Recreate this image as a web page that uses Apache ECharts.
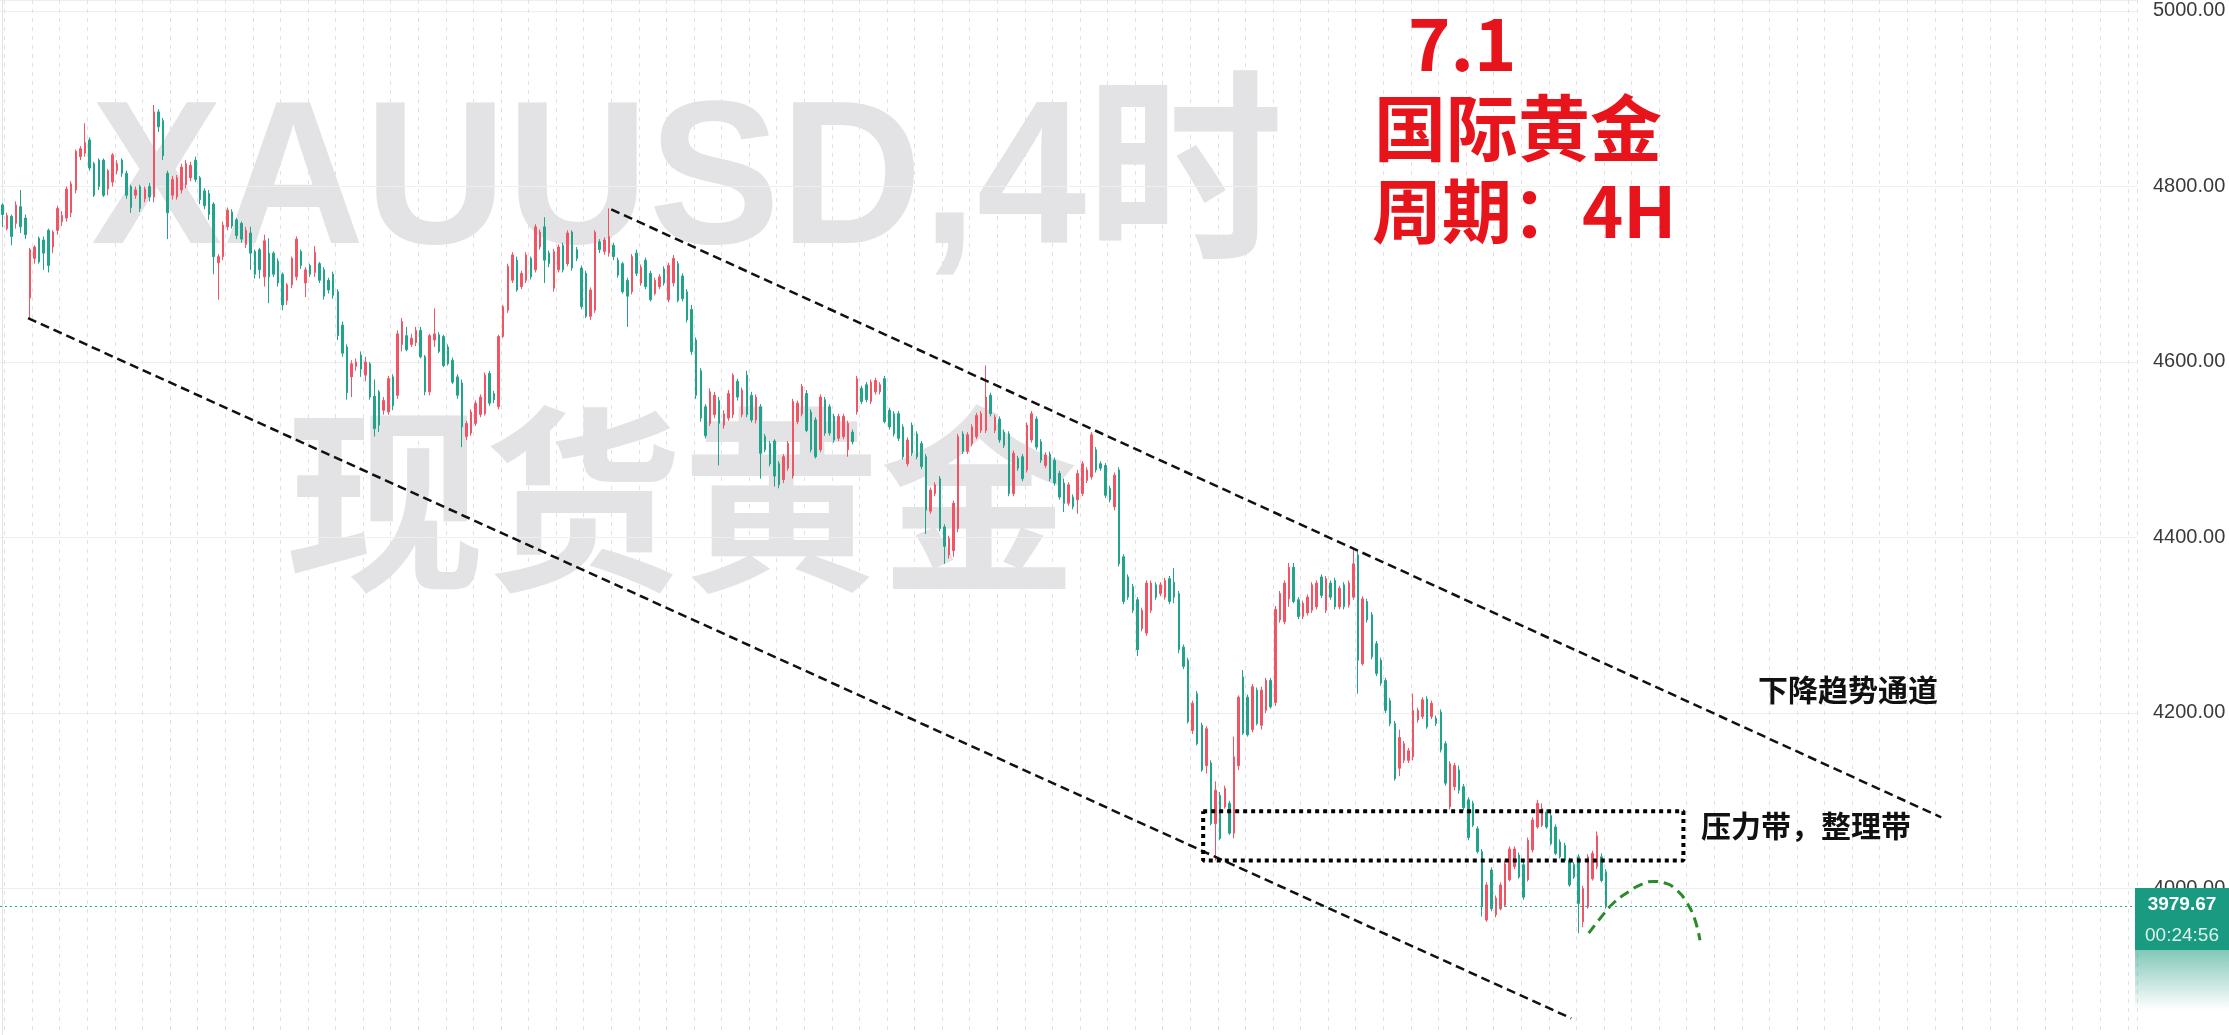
<!DOCTYPE html>
<html>
<head>
<meta charset="utf-8">
<title>XAUUSD 4H</title>
<script src="https://cdn.jsdelivr.net/npm/echarts@6.0.0/dist/echarts.min.js"></script>
<style>
  html, body { margin: 0; padding: 0; background: #fff; }
  #chart { width: 2229px; height: 1035px; }
</style>
</head>
<body>
<div id="chart"></div>
<script>
// 4H candles: [open, close, low, high]
const ohlc = [
  [4779,4768,4754,4781],[4752,4767,4750,4770],[4766,4743,4733,4768],[4758,4779,4752,4783],[4777,4754,4747,4796],[4764,4745,4740,4768],
  [4673,4728,4650,4730],[4718,4731,4712,4733],[4741,4714,4712,4743],[4739,4724,4705,4743],[4750,4710,4702,4752],[4731,4748,4724,4750],
  [4750,4775,4745,4778],[4760,4767,4755,4772],[4764,4797,4760,4800],[4770,4803,4765,4806],[4796,4840,4792,4842],[4834,4843,4830,4846],
  [4838,4850,4834,4872],[4853,4821,4818,4856],[4826,4790,4788,4828],[4830,4800,4796,4832],[4830,4790,4788,4832],[4797,4818,4790,4820],
  [4805,4836,4800,4838],[4818,4826,4814,4830],[4830,4815,4811,4832],[4815,4790,4786,4818],[4800,4776,4770,4802],[4790,4796,4786,4800],
  [4800,4775,4771,4802],[4786,4797,4782,4800],[4800,4788,4783,4804],[4788,4885,4782,4893],[4885,4868,4862,4888],[4875,4835,4830,4878],
  [4815,4770,4740,4818],[4790,4808,4785,4812],[4788,4810,4785,4813],[4796,4822,4792,4826],[4802,4826,4798,4830],[4810,4824,4806,4828],
  [4830,4808,4805,4834],[4810,4785,4780,4812],[4795,4778,4774,4798],[4792,4768,4762,4796],[4780,4720,4700,4782],[4713,4720,4671,4723],
  [4720,4756,4716,4760],[4754,4773,4750,4776],[4771,4755,4752,4774],[4762,4744,4740,4764],[4758,4740,4736,4760],[4734,4750,4730,4754],
  [4747,4724,4705,4754],[4726,4700,4695,4728],[4728,4705,4695,4730],[4697,4738,4686,4745],[4724,4697,4667,4741],[4724,4700,4697,4726],
  [4715,4690,4686,4718],[4700,4665,4659,4702],[4670,4688,4665,4690],[4688,4718,4684,4720],[4697,4740,4693,4743],[4726,4710,4706,4728],
  [4690,4705,4674,4708],[4710,4700,4697,4712],[4702,4725,4697,4732],[4712,4693,4690,4714],[4705,4675,4671,4708],[4693,4682,4678,4696],
  [4700,4676,4672,4703],[4680,4630,4625,4683],[4642,4610,4606,4646],[4617,4565,4557,4620],[4583,4598,4560,4602],[4595,4600,4590,4604],
  [4608,4592,4583,4612],[4585,4600,4578,4606],[4598,4560,4557,4600],[4561,4524,4515,4580],[4566,4528,4520,4568],[4545,4556,4540,4560],
  [4543,4581,4540,4584],[4583,4550,4545,4586],[4562,4632,4558,4636],[4620,4646,4612,4650],[4630,4614,4612,4640],[4620,4627,4617,4632],
  [4622,4636,4618,4640],[4636,4606,4604,4640],[4606,4566,4562,4608],[4566,4630,4562,4632],[4625,4632,4617,4661],[4631,4612,4610,4634],
  [4629,4596,4594,4631],[4617,4598,4596,4620],[4602,4577,4575,4605],[4583,4562,4558,4586],[4576,4526,4503,4580],[4515,4530,4511,4533],
  [4519,4543,4516,4546],[4530,4553,4527,4556],[4540,4560,4537,4563],[4541,4585,4539,4588],[4587,4553,4550,4590],[4564,4557,4553,4567],
  [4549,4629,4546,4631],[4629,4663,4627,4665],[4659,4709,4656,4712],[4693,4722,4690,4725],[4716,4682,4680,4720],[4686,4701,4683,4704],
  [4693,4722,4690,4725],[4718,4697,4694,4720],[4705,4754,4702,4757],[4731,4748,4728,4751],[4754,4716,4690,4765],[4724,4712,4708,4727],
  [4684,4726,4680,4729],[4705,4731,4702,4734],[4733,4705,4702,4736],[4712,4747,4709,4750],[4748,4707,4704,4750],[4728,4718,4715,4731],
  [4707,4663,4660,4710],[4701,4652,4650,4704],[4652,4682,4648,4685],[4659,4748,4656,4750],[4737,4728,4724,4740],[4726,4739,4722,4742],
  [4724,4743,4720,4775],[4733,4720,4716,4736],[4716,4699,4696,4719],[4712,4680,4678,4714],[4693,4675,4640,4696],[4680,4720,4677,4723],
  [4724,4701,4698,4728],[4690,4708,4687,4711],[4716,4686,4683,4719],[4701,4671,4669,4704],[4678,4693,4676,4696],[4686,4697,4683,4700],
  [4706,4690,4687,4709],[4671,4710,4668,4713],[4690,4718,4686,4722],[4712,4670,4668,4715],[4698,4672,4669,4701],[4680,4648,4645,4683],
  [4660,4612,4608,4665],[4625,4562,4558,4628],[4590,4536,4532,4593],[4549,4516,4513,4552],[4530,4566,4527,4570],[4540,4562,4536,4566],
  [4556,4530,4482,4560],[4528,4541,4524,4545],[4536,4564,4533,4568],[4540,4585,4536,4587],[4578,4560,4556,4581],[4540,4568,4537,4571],
  [4585,4540,4537,4590],[4562,4534,4531,4566],[4534,4560,4530,4563],[4549,4496,4467,4552],[4515,4500,4497,4518],[4507,4484,4481,4510],
  [4510,4470,4458,4512],[4484,4460,4456,4487],[4466,4492,4462,4495],[4479,4507,4476,4510],[4470,4555,4467,4558],[4532,4553,4529,4556],
  [4541,4572,4538,4575],[4564,4522,4520,4568],[4543,4500,4497,4546],[4534,4492,4490,4537],[4500,4560,4497,4563],[4557,4519,4516,4560],
  [4549,4519,4516,4552],[4538,4511,4508,4541],[4513,4538,4510,4541],[4515,4538,4512,4541],[4500,4530,4492,4533],[4520,4509,4506,4523],
  [4543,4581,4540,4584],[4570,4555,4552,4573],[4574,4557,4554,4577],[4555,4577,4552,4580],[4566,4579,4563,4582],[4566,4574,4563,4577],
  [4581,4532,4530,4584],[4545,4526,4523,4548],[4541,4518,4515,4544],[4541,4513,4510,4544],[4526,4492,4489,4529],[4484,4511,4481,4514],
  [4528,4496,4493,4531],[4518,4492,4489,4521],[4507,4481,4478,4510],[4492,4431,4404,4495],[4430,4454,4427,4457],[4450,4460,4447,4463],
  [4467,4410,4407,4470],[4412,4390,4370,4415],[4380,4399,4376,4402],[4385,4439,4378,4442],[4410,4515,4406,4518],[4518,4498,4495,4521],
  [4498,4517,4495,4520],[4507,4526,4504,4529],[4515,4539,4512,4542],[4522,4541,4519,4544],[4522,4560,4519,4596],[4562,4541,4538,4565],
  [4522,4537,4519,4540],[4535,4511,4508,4538],[4520,4505,4502,4523],[4518,4450,4447,4521],[4450,4496,4447,4499],[4490,4479,4476,4493],
  [4492,4467,4464,4495],[4477,4528,4474,4531],[4511,4541,4508,4544],[4535,4503,4500,4538],[4509,4488,4485,4512],[4482,4494,4479,4497],
  [4495,4467,4464,4498],[4488,4462,4459,4491],[4473,4446,4443,4476],[4462,4439,4429,4467],[4439,4460,4436,4463],[4446,4435,4432,4449],
  [4443,4473,4427,4477],[4450,4484,4447,4487],[4465,4477,4462,4480],[4469,4517,4466,4520],[4500,4477,4474,4503],[4484,4479,4476,4487],
  [4482,4448,4445,4485],[4456,4443,4440,4459],[4435,4471,4431,4474],[4477,4370,4367,4480],[4378,4327,4324,4381],[4355,4332,4329,4358],
  [4344,4317,4314,4347],[4329,4272,4265,4332],[4296,4317,4293,4320],[4291,4348,4288,4351],[4317,4348,4314,4351],[4346,4332,4329,4349],
  [4336,4346,4333,4349],[4332,4351,4329,4354],[4353,4327,4324,4356],[4349,4332,4325,4365],[4336,4272,4268,4339],[4275,4253,4250,4278],
  [4260,4190,4188,4263],[4180,4211,4176,4214],[4222,4165,4163,4225],[4186,4135,4133,4189],[4140,4182,4131,4185],[4143,4074,4072,4146],
  [4074,4112,4032,4122],[4106,4057,4055,4110],[4093,4114,4091,4117],[4097,4063,4061,4100],[4063,4150,4057,4173],[4140,4218,4135,4220],
  [4241,4177,4175,4249],[4218,4175,4173,4221],[4181,4230,4178,4233],[4226,4188,4186,4229],[4186,4226,4181,4230],[4203,4237,4200,4240],
  [4237,4207,4205,4240],[4212,4318,4208,4322],[4306,4336,4303,4339],[4304,4348,4301,4351],[4330,4366,4321,4371],[4366,4327,4325,4371],
  [4329,4310,4307,4332],[4310,4325,4307,4328],[4314,4332,4311,4335],[4317,4346,4314,4349],[4321,4348,4318,4351],[4355,4334,4331,4358],
  [4317,4353,4314,4356],[4348,4332,4329,4351],[4351,4321,4318,4354],[4321,4342,4318,4345],[4346,4321,4318,4349],[4323,4348,4320,4351],
  [4332,4370,4329,4388],[4380,4260,4222,4385],[4256,4330,4254,4333],[4327,4306,4303,4330],[4312,4264,4261,4315],[4279,4245,4242,4282],
  [4260,4234,4231,4263],[4237,4203,4200,4240],[4214,4188,4185,4217],[4188,4125,4123,4191],[4137,4172,4128,4181],[4146,4165,4143,4168],
  [4146,4157,4143,4160],[4150,4203,4146,4222],[4192,4203,4189,4206],[4196,4215,4193,4218],[4216,4184,4182,4219],[4196,4211,4193,4214],
  [4194,4188,4185,4197],[4201,4158,4155,4204],[4165,4120,4117,4168],[4093,4142,4090,4145],[4116,4140,4112,4143],[4135,4112,4108,4140],
  [4116,4092,4089,4119],[4101,4058,4055,4104],[4097,4072,4070,4100],[4068,4042,4040,4071],[4042,3979,3968,4045],[3964,4004,3962,4007],
  [4021,3977,3974,4024],[3970,3989,3967,3992],[3977,4004,3975,4007],[3981,4028,3979,4032],[4010,4045,4008,4048],[4025,4045,4022,4048],
  [4038,4013,4011,4041],[4027,3990,3987,4030],[4010,4055,4008,4058],[4044,4078,4041,4081],[4070,4097,4068,4101],[4072,4091,4070,4097],
  [4087,4070,4068,4090],[4083,4051,4049,4086],[4070,4040,4038,4073],[4053,4036,4034,4056],[4049,4032,4030,4052],[4032,4004,4002,4035],
  [4027,4013,4011,4030],[4036,3983,3949,4039],[3962,4000,3956,4003],[3979,4036,3977,4039],[4011,4040,4009,4043],[4025,4060,4022,4065],
  [4036,4009,4007,4040],[4019,3979.67,3977,4022]
];

// empty slots continue to the right of the last bar
const slotCount = 465;
const categories = Array.from({ length: slotCount }, (_, i) => String(i));

const lastPrice = 3979.67;
const countdown = '00:24:56';

// visible price window (top edge to bottom edge of the picture)
const yMin = 3833;
const yMax = 5012.5;

// drawn lines: [bar index, price]
const lowerChannel = [[5.6, 4650], [341.4, 3852]];
const upperChannel = [[132.5, 4774], [421.9, 4081]];
const pressureBox = [[261.3, 4088], [365.8, 4088], [365.8, 4032], [261.3, 4032], [261.3, 4088]];
const forecastArc = [
  [345.2, 3949], [347.7, 3966], [350.7, 3984], [353.8, 3996], [356.8, 4005], [359.3, 4008],
  [361.9, 4006], [364.4, 3998], [366.4, 3985], [368.2, 3966], [369.4, 3941]
];

const upColor = '#ef5564';
const downColor = '#22a38b';

const chart = echarts.init(document.getElementById('chart'));

chart.setOption({
  animation: false,
  backgroundColor: '#ffffff',
  grid: { left: 0, right: 92, top: 0, bottom: 0 },
  xAxis: [
    {
      type: 'category',
      data: categories,
      boundaryGap: true,
      axisLine: { show: false },
      axisTick: { show: false },
      axisLabel: { show: false },
      splitLine: {
        show: true,
        interval: (index) => index % 6 === 1,
        lineStyle: { color: '#e2e2e2', type: [4, 5], width: 1 },
      },
    },
    {
      type: 'value',
      min: -0.5,
      max: slotCount - 0.5,
      show: false,
    },
  ],
  yAxis: {
    type: 'value',
    position: 'right',
    min: yMin,
    max: yMax,
    splitNumber: 6,
    axisLine: { show: true, lineStyle: { color: '#e3e3e3', width: 1 } },
    axisTick: { show: false },
    axisLabel: {
      margin: 16,
      fontSize: 20,
      color: '#3a3a3a',
      fontFamily: 'Liberation Sans, Arial, sans-serif',
      showMinLabel: false,
      showMaxLabel: false,
      formatter: (v) => v.toFixed(2),
    },
    splitLine: { lineStyle: { color: '#efefef', width: 1 } },
  },
  series: [
    {
      type: 'candlestick',
      data: ohlc,
      barWidth: 2,
      itemStyle: {
        color: upColor,
        color0: downColor,
        borderColor: upColor,
        borderColor0: downColor,
        borderWidth: 1,
      },
      markLine: {
        silent: true,
        symbol: ['none', 'none'],
        label: { show: false },
        lineStyle: { color: '#26a69a', type: [2, 3], width: 1 },
        data: [{ yAxis: lastPrice }],
      },
    },
    {
      type: 'line',
      xAxisIndex: 1,
      data: lowerChannel,
      symbol: 'none',
      lineStyle: { color: '#111', width: 2.5, type: [9, 5] },
    },
    {
      type: 'line',
      xAxisIndex: 1,
      data: upperChannel,
      symbol: 'none',
      lineStyle: { color: '#111', width: 2.5, type: [9, 5] },
    },
    {
      type: 'line',
      xAxisIndex: 1,
      data: pressureBox,
      symbol: 'none',
      lineStyle: { color: '#000', width: 4, type: [4, 4] },
    },
    {
      type: 'line',
      xAxisIndex: 1,
      data: forecastArc,
      smooth: true,
      symbol: 'none',
      lineStyle: { color: '#2b8a2b', width: 3, type: [10, 6] },
    },
  ],
  graphic: [
    {
      type: 'text', z: -10, x: 687, y: 186, scaleX: 0.96,
      style: { text: 'XAUUSD,4时', fontSize: 205, fontWeight: 'bold', fontFamily: 'Liberation Sans, Noto Sans CJK SC', fill: '#e3e3e6', align: 'center', verticalAlign: 'middle' },
    },
    {
      type: 'text', z: -10, x: 682, y: 500,
      style: { text: '现货黄金', fontSize: 198, fontWeight: 'bold', fontFamily: 'Noto Sans CJK SC', fill: '#e3e3e6', align: 'center', verticalAlign: 'middle' },
    },
    {
      type: 'text', z: 100, x: 1408, y: 44,
      style: { text: '7.1', fontSize: 72, fontWeight: 'bold', fontFamily: 'Noto Sans CJK SC', fill: '#e8141c', align: 'left', verticalAlign: 'middle' },
    },
    {
      type: 'text', z: 100, x: 1374, y: 128,
      style: { text: '国际黄金', fontSize: 72, fontWeight: 'bold', fontFamily: 'Noto Sans CJK SC', fill: '#e8141c', align: 'left', verticalAlign: 'middle' },
    },
    {
      type: 'text', z: 100, x: 1372, y: 211,
      style: { text: '周期：4H', fontSize: 70, fontWeight: 'bold', fontFamily: 'Noto Sans CJK SC', fill: '#e8141c', align: 'left', verticalAlign: 'middle' },
    },
    {
      type: 'text', z: 100, x: 1758, y: 690,
      style: { text: '下降趋势通道', fontSize: 30, fontWeight: 'bold', fontFamily: 'Noto Sans CJK SC', fill: '#111', align: 'left', verticalAlign: 'middle' },
    },
    {
      type: 'text', z: 100, x: 1701, y: 826,
      style: { text: '压力带，整理带', fontSize: 30, fontWeight: 'bold', fontFamily: 'Noto Sans CJK SC', fill: '#111', align: 'left', verticalAlign: 'middle' },
    },
    {
      type: 'rect', z: 100,
      shape: { x: 2135, y: 950, width: 94, height: 60 },
      style: {
        fill: new echarts.graphic.LinearGradient(0, 0, 0, 1, [
          { offset: 0, color: 'rgba(26,154,128,0.55)' },
          { offset: 1, color: 'rgba(26,154,128,0)' },
        ]),
      },
    },
    {
      type: 'rect', z: 100,
      shape: { x: 2135, y: 888, width: 94, height: 62 },
      style: { fill: '#1a9a80' },
    },
    {
      type: 'text', z: 101, x: 2182, y: 905,
      style: { text: lastPrice.toFixed(2), fontSize: 19, fontWeight: 'bold', fontFamily: 'Liberation Sans, Arial', fill: '#ffffff', align: 'center', verticalAlign: 'middle' },
    },
    {
      type: 'text', z: 101, x: 2182, y: 936,
      style: { text: countdown, fontSize: 19, fontFamily: 'Liberation Sans, Arial', fill: 'rgba(255,255,255,0.85)', align: 'center', verticalAlign: 'middle' },
    },
  ],
});

window.addEventListener('resize', () => {
  chart.resize();
});
</script>
</body>
</html>
